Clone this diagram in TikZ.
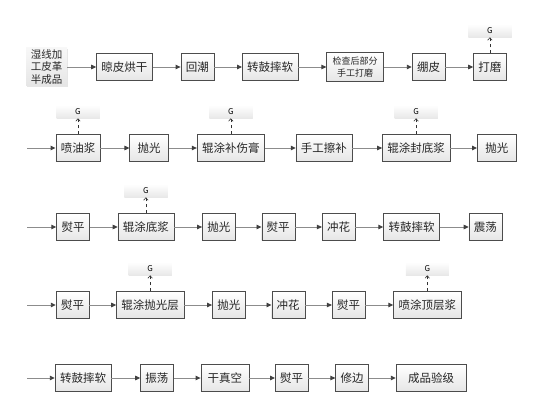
\documentclass[tikz,border=0pt]{standalone}
\usepackage{fontspec}
\setmainfont{Noto Sans CJK SC}
\usepackage{tikz}
\usetikzlibrary{arrows.meta, positioning, shadows}

\begin{document}
\begin{tikzpicture}[x=1pt,y=-1pt,node distance=28pt,
        >={Triangle[length=5pt,width=4.5pt,color=black!75]},
        flow/.style={draw=black!45,line width=0.9pt},
        emit/.style={draw=black!80,line width=0.6pt,dashed,-{Straight Barb[length=2.5pt,width=4.5pt]}},
        proc/.style={draw=black!70,top color=white,bottom color=black!10,
            drop shadow={shadow xshift=0.8pt,shadow yshift=-0.8pt,opacity=0.25},
            minimum height=27pt,inner xsep=5pt,text=black!85,
            font=\fontsize{11.5}{13}\selectfont},
        gbox/.style={top color=white,bottom color=black!9,
            drop shadow={shadow xshift=0.6pt,shadow yshift=-0.6pt,opacity=0.15},
            minimum width=43pt,minimum height=13pt,inner sep=0pt,
            font=\fontsize{8}{9}\selectfont}]
    \useasboundingbox (0,0) rectangle (534,414);

    % row 1
    \node[top color=black!3,bottom color=black!10,align=center,inner sep=1pt,
          minimum width=41pt,minimum height=38pt,text=black!85,
          font=\fontsize{10.5}{12.5}\selectfont,
          drop shadow={shadow xshift=0.8pt,shadow yshift=-0.8pt,opacity=0.2}]
          (a_0) at (46.5,67) {湿线加\\工皮革\\半成品};
    \node[proc] (a_1) [right=29pt of a_0] {晾皮烘干};
    \node[proc] (a_2) [right=of a_1] {回潮};
    \node[proc] (a_3) [right=of a_2] {转鼓摔软};
    \node[proc,align=center,minimum height=29pt,inner xsep=6pt,
          font=\fontsize{9}{12}\selectfont] (a_4) [right=of a_3] {检查后部分\\手工打磨};
    \node[proc] (a_5) [right=of a_4] {绷皮};
    \node[proc] (a_6) [right=of a_5] {打磨};
    \node[gbox] (g_1) [above=16pt of a_6] {G};

    % row 2
    \coordinate (b_0) at (27,148);
    \node[proc] (b_1) at (78,148) {喷油浆};
    \node[proc,minimum width=39pt] (b_2) [right=29pt of b_1] {抛光};
    \node[proc] (b_3) [right=of b_2] {辊涂补伤膏};
    \node[proc] (b_4) [right=31pt of b_3] {手工擦补};
    \node[proc] (b_5) [right=30pt of b_4] {辊涂封底浆};
    \node[proc,minimum width=39pt] (b_6) [right=27pt of b_5] {抛光};
    \node[gbox] (g_2) [above=16pt of b_1] {G};
    \node[gbox] (g_3) [above=16pt of b_3] {G};
    \node[gbox] (g_4) [above=16pt of b_5] {G};

    % row 3
    \coordinate (c_0) at (27,227);
    \node[proc] (c_1) at (73,227) {熨平};
    \node[proc] (c_2) [right=of c_1] {辊涂底浆};
    \node[proc] (c_3) [right=of c_2] {抛光};
    \node[proc] (c_4) [right=26pt of c_3] {熨平};
    \node[proc] (c_5) [right=27pt of c_4] {冲花};
    \node[proc] (c_6) [right=of c_5] {转鼓摔软};
    \node[proc] (c_7) [right=29pt of c_6] {震荡};
    \node[gbox] (g_5) [above=16pt of c_2] {G};

    % row 4
    \coordinate (d_0) at (27,305);
    \node[proc] (d_1) at (72.5,305) {熨平};
    \node[proc] (d_2) [right=27pt of d_1] {辊涂抛光层};
    \node[proc] (d_3) [right=of d_2] {抛光};
    \node[proc] (d_4) [right=26pt of d_3] {冲花};
    \node[proc] (d_5) [right=27pt of d_4] {熨平};
    \node[proc] (d_6) [right=of d_5] {喷涂顶层浆};
    \node[gbox] (g_6) [above=16pt of d_2] {G};
    \node[gbox] (g_7) [above=16pt of d_6] {G};

    % row 5
    \coordinate (e_0) at (27,378);
    \node[proc] (e_1) at (83,378) {转鼓摔软};
    \node[proc] (e_2) [right=29pt of e_1] {振荡};
    \node[proc,minimum width=48pt] (e_3) [right=27pt of e_2] {干真空};
    \node[proc] (e_4) [right=26pt of e_3] {熨平};
    \node[proc] (e_5) [right=27pt of e_4] {修边};
    \node[proc,minimum width=70pt] (e_6) [right=27pt of e_5] {成品验级};

    \path[->,every edge/.style=flow]
        (a_0) edge (a_1) (a_1) edge (a_2) (a_2) edge (a_3)
        (a_3) edge (a_4) (a_4) edge (a_5) (a_5) edge (a_6)
        (b_0) edge (b_1) (b_1) edge (b_2) (b_2) edge (b_3)
        (b_3) edge (b_4) (b_4) edge (b_5) (b_5) edge (b_6)
        (c_0) edge (c_1) (c_1) edge (c_2) (c_2) edge (c_3)
        (c_3) edge (c_4) (c_4) edge (c_5) (c_5) edge (c_6) (c_6) edge (c_7)
        (d_0) edge (d_1) (d_1) edge (d_2) (d_2) edge (d_3)
        (d_3) edge (d_4) (d_4) edge (d_5) (d_5) edge (d_6)
        (e_0) edge (e_1) (e_1) edge (e_2) (e_2) edge (e_3)
        (e_3) edge (e_4) (e_4) edge (e_5) (e_5) edge (e_6);

    \path[every edge/.style=emit]
        (a_6) edge (g_1) (b_1) edge (g_2) (b_3) edge (g_3) (b_5) edge (g_4)
        (c_2) edge (g_5) (d_2) edge (g_6) (d_6) edge (g_7);
\end{tikzpicture}
\end{document}
